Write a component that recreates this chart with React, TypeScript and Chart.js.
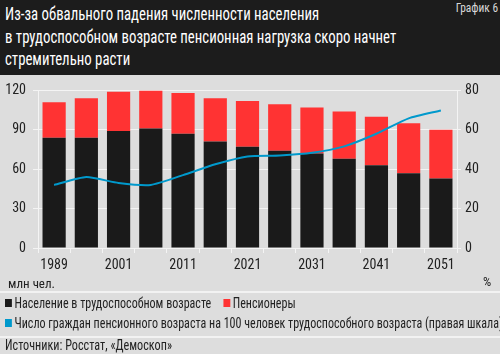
import React, { useEffect, useRef } from "react";
import { Chart, registerables } from "chart.js";

Chart.register(...registerables);

const years = ["1989", "1996", "2001", "2006", "2011", "2016", "2021", "2026", "2031", "2036", "2041", "2046", "2051"];
const workingAge = [84, 84, 89, 91, 87, 81, 77, 74, 72, 68, 63, 57, 53];
const pensioners = [27, 30, 30, 29, 31, 33, 35, 35.5, 35, 36, 37, 38, 37];
const burden = [32, 36, 33, 32, 37, 42.5, 46.5, 47, 48.3, 51.6, 58, 65.8, 69.8];

const FONT = "'Roboto Condensed', 'DejaVu Sans Condensed', sans-serif";
const BG = "#dddddd";
const GRID = "#f4f4f4";
const BLACK = "#1a1a1a";
const RED = "#ff3333";
const BLUE = "#0099cc";

export default function App() {
  const ref = useRef<HTMLCanvasElement | null>(null);

  useEffect(() => {
    document.body.style.margin = "0";
    const ctx = ref.current;
    if (!ctx) return;
    const chart = new Chart(ctx, {
      type: "bar",
      data: {
        labels: years,
        datasets: [
          {
            type: "line",
            label: "Число граждан пенсионного возраста на 100 человек трудоспособного возраста (правая шкала)",
            data: burden,
            yAxisID: "y1",
            borderColor: BLUE,
            borderWidth: 2,
            pointRadius: 0,
            tension: 0.2,
            fill: false,
            order: 0,
          } as any,
          {
            label: "Население в трудоспособном возрасте",
            data: workingAge,
            backgroundColor: BLACK,
            yAxisID: "y",
            stack: "s",
            order: 1,
            barPercentage: 0.72,
            categoryPercentage: 1,
          },
          {
            label: "Пенсионеры",
            data: pensioners,
            backgroundColor: RED,
            yAxisID: "y",
            stack: "s",
            order: 1,
            barPercentage: 0.72,
            categoryPercentage: 1,
          },
        ],
      },
      options: {
        responsive: false,
        animation: false,
        layout: { padding: { top: 11, left: 0, right: 0, bottom: 0 } },
        plugins: { legend: { display: false }, tooltip: { enabled: false }, title: { display: false } },
        scales: {
          x: {
            stacked: true,
            offset: true,
            grid: { display: true, drawOnChartArea: false, drawTicks: true, tickLength: 5, color: GRID, offset: true },
            border: { display: true, color: GRID, width: 1 },
            ticks: {
              autoSkip: false,
              maxRotation: 0,
              padding: 4,
              color: "#222",
              font: { family: FONT, size: 14 },
              callback: (_v: any, i: number) => (i % 2 === 0 ? years[i] : ""),
            },
            afterFit: (s: any) => {
              s.height = 44;
            },
          },
          y: {
            stacked: true,
            position: "left",
            min: 0,
            max: 120,
            grid: { color: GRID, tickLength: 5, drawTicks: true },
            border: { display: true, color: GRID, width: 1 },
            ticks: { stepSize: 30, padding: 7, color: "#222", font: { family: FONT, size: 14 } },
            afterFit: (s: any) => {
              s.width = 38;
            },
          },
          y1: {
            position: "right",
            min: 0,
            max: 80,
            grid: { drawOnChartArea: false, color: GRID, tickLength: 4, drawTicks: true },
            border: { display: true, color: GRID, width: 1 },
            ticks: { stepSize: 20, padding: 4, color: "#222", font: { family: FONT, size: 14 } },
            afterFit: (s: any) => {
              s.width = 43;
            },
          },
        },
      },
    });
    return () => chart.destroy();
  }, []);

  const sq = (c: string) => (
    <span style={{ display: "inline-block", width: 8, height: 8, background: c, marginRight: 3, verticalAlign: "middle", position: "relative", top: -1 }} />
  );

  const legendRow: React.CSSProperties = {
    position: "absolute",
    left: 5,
    fontSize: 14,
    lineHeight: "16px",
    whiteSpace: "nowrap",
    transform: "scaleX(0.86)",
    transformOrigin: "left top",
  };

  return (
    <div style={{ position: "fixed", left: 0, top: 0, width: 500, height: 354, background: BG, overflow: "hidden", fontFamily: FONT, color: "#222" }}>
      <div style={{ position: "absolute", left: 0, top: 0, width: 500, height: 75, background: "#1c1c1c" }}>
        <div
          style={{
            position: "absolute",
            left: 5,
            top: 3,
            color: "#ffffff",
            fontSize: 18.5,
            lineHeight: "22.5px",
            transform: "scaleX(0.8)",
            transformOrigin: "left top",
            whiteSpace: "nowrap",
          }}
        >
          Из-за обвального падения численности населения
          <br />
          в трудоспособном возрасте пенсионная нагрузка скоро начнет
          <br />
          стремительно расти
        </div>
        <div style={{ position: "absolute", right: 2, top: 0, color: "#d8d8d8", fontSize: 13, lineHeight: "15px", transform: "scaleX(0.88)", transformOrigin: "right top" }}>
          График 6
        </div>
      </div>
      <canvas ref={ref} width={500} height={217} style={{ position: "absolute", left: 0, top: 75, display: "block" }} />
      <div style={{ position: "absolute", left: 8, top: 276, fontSize: 13, lineHeight: "16px" }}>млн чел.</div>
      <div style={{ position: "absolute", left: 483, top: 274, fontSize: 13, lineHeight: "16px" }}>%</div>
      <div style={{ position: "absolute", left: 0, top: 291, width: 500, height: 2, background: "#f2f2f2" }} />
      <div style={{ ...legendRow, top: 295 }}>
        {sq(BLACK)}Население в трудоспособном возрасте
        <span style={{ display: "inline-block", width: 14 }} />
        {sq(RED)}Пенсионеры
      </div>
      <div style={{ ...legendRow, top: 315 }}>
        {sq(BLUE)}Число граждан пенсионного возраста на 100 человек трудоспособного возраста (правая шкала)
      </div>
      <div style={{ position: "absolute", left: 0, top: 336, width: 500, height: 2, background: "#f2f2f2" }} />
      <div style={{ position: "absolute", left: 5, top: 337, fontSize: 14.5, lineHeight: "17px", whiteSpace: "nowrap", transform: "scaleX(0.84)", transformOrigin: "left top" }}>
        Источники: Росстат, «Демоскоп»
      </div>
    </div>
  );
}
